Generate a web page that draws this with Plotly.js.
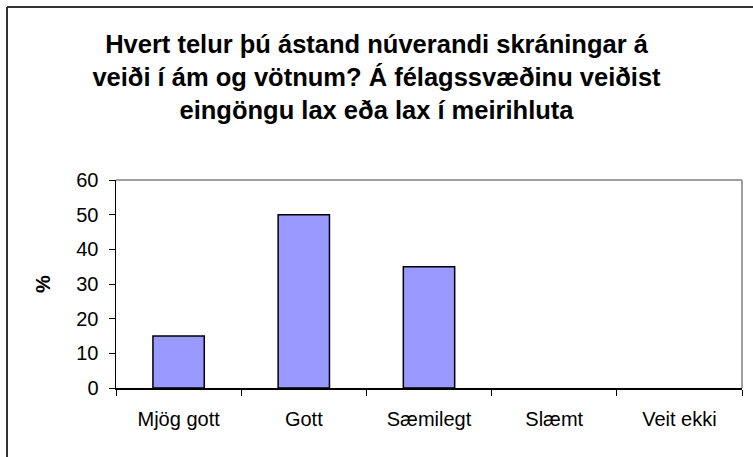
<!DOCTYPE html>
<html>
<head>
<meta charset="utf-8">
<script src="https://cdn.plot.ly/plotly-3.0.1.min.js"></script>
<style>html,body{margin:0;padding:0;background:#fff;}#chart{width:753px;height:457px;}</style>
</head>
<body>
<div id="chart"></div>
<script>
const categories = ["Mjög gott", "Gott", "Sæmilegt", "Slæmt", "Veit ekki"];
const values = [15, 50, 35, 0, 0];
const yTicks = [0, 10, 20, 30, 40, 50, 60];
const titleText = "Hvert telur þú ástand núverandi skráningar á<br>veiði í ám og vötnum? Á félagssvæðinu veiðist<br>eingöngu lax eða lax í meirihluta";
const yTitle = "%";

const W = 753, H = 457;
const L = 116, R = 11, T = 180, B = 69;
const pw = W - L - R, ph = H - T - B;
const px = v => (v - L) / pw;
const py = v => (H - B - v) / ph;

const trace = {
  type: "bar",
  x: categories,
  y: values,
  marker: {color: "#9999FF", line: {color: "#000000", width: values.map(v => v > 0 ? 1.5 : 0)}},
  hoverinfo: "x+y"
};

const layout = {
  width: W, height: H,
  margin: {l: L, r: R, t: T, b: B, pad: 0},
  paper_bgcolor: "#ffffff",
  plot_bgcolor: "#ffffff",
  font: {family: "Liberation Sans, Arial, sans-serif", color: "#000000", size: 20},
  bargap: 0.59,
  showlegend: false,
  title: {
    text: titleText,
    font: {size: 25.5, family: "Liberation Sans, Arial, sans-serif", weight: "bold", color: "#000"},
    xref: "container", x: 0.5, xanchor: "center",
    yref: "container", y: 1 - 53 / H, yanchor: "top"
  },
  xaxis: {
    type: "category",
    showline: true, linecolor: "#000", linewidth: 1.5,
    ticks: "outside", tickson: "boundaries", ticklen: 6, tickcolor: "#000", tickwidth: 1,
    showgrid: false, zeroline: false,
    tickfont: {size: 20},
    ticklabelstandoff: 12,
    fixedrange: true
  },
  yaxis: {
    range: [0, 60],
    tickvals: yTicks,
    showline: true, linecolor: "#000", linewidth: 1.5,
    ticks: "outside", ticklen: 6, tickcolor: "#000", tickwidth: 1,
    showgrid: false, zeroline: false,
    tickfont: {size: 20},
    ticklabelstandoff: 6,
    title: {text: yTitle, font: {size: 20, weight: "bold"}, standoff: 20},
    fixedrange: true
  },
  shapes: [
    {type: "line", xref: "paper", yref: "paper", x0: 0, x1: 1, y0: 1, y1: 1, line: {color: "#808080", width: 1.5}},
    {type: "line", xref: "paper", yref: "paper", x0: 1, x1: 1, y0: 0, y1: 1, line: {color: "#808080", width: 1.5}},
    {type: "line", xref: "paper", yref: "paper", x0: px(7), x1: px(760), y0: py(7), y1: py(7), line: {color: "#333333", width: 2}},
    {type: "line", xref: "paper", yref: "paper", x0: px(7), x1: px(7), y0: py(7), y1: py(470), line: {color: "#333333", width: 2}}
  ]
};

Plotly.newPlot("chart", [trace], layout, {displayModeBar: false, staticPlot: true});
</script>
</body>
</html>
